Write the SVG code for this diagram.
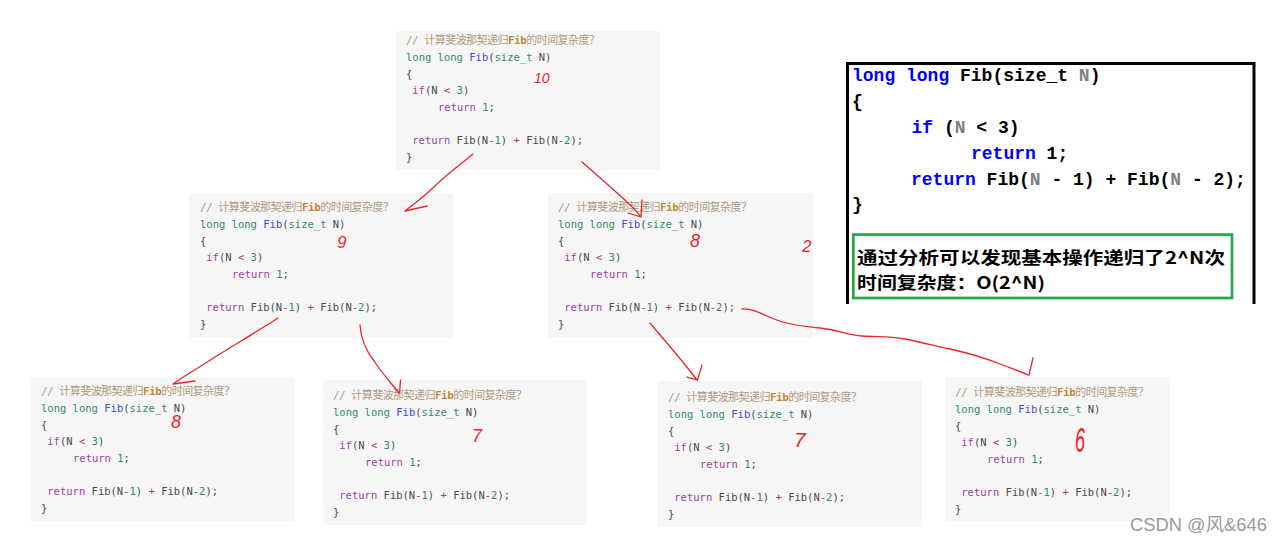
<svg xmlns="http://www.w3.org/2000/svg" width="1287" height="542" viewBox="0 0 1287 542">
<style>
.box{fill:#f6f6f6}
.code{font-family:"DejaVu Sans Mono","Liberation Mono",monospace;font-size:10.5px;fill:#4a4a4a}
.cm{font-family:"DejaVu Sans Mono","Noto Sans CJK SC",monospace;font-size:11px;fill:#ad9a80}
.cmf{fill:#c4893a;font-weight:bold}
.ty{fill:#32896c}
.fn{fill:#4545e6}
.kw{fill:#a13fa0}
.nu{fill:#2f8a63}
.op{fill:#a3396b}
.hand{font-family:"Liberation Sans",sans-serif;font-style:italic;fill:#e8262c}
.arrow{fill:none;stroke:#e8262c;stroke-width:1.3;stroke-linecap:round;stroke-linejoin:round}
.pc{font-family:"Liberation Mono","DejaVu Sans Mono",monospace;font-size:18px;font-weight:bold;fill:#000}
.pk{fill:#0000ff}
.pn{fill:#808080}
.cn{font-family:"Noto Sans CJK SC",sans-serif;font-size:17px;font-weight:bold;fill:#000}
</style>
<rect width="1287" height="542" fill="#ffffff"/>

<g id="node-top">
<rect class="box" x="396" y="31" width="264" height="139" rx="2"/>
<text class="cm" x="406" y="44" textLength="194" lengthAdjust="spacing">// 计算斐波那契递归<tspan class="cmf">Fib</tspan>的时间复杂度？</text>
<text class="code" x="406" y="60.8"><tspan class="ty">long long</tspan> <tspan class="fn">Fib</tspan>(<tspan class="ty">size_t</tspan> N)</text>
<text class="code" x="406" y="77.8">{</text>
<text class="code" x="412.3" y="94.3"><tspan class="kw">if</tspan>(N <tspan class="op">&lt;</tspan> <tspan class="nu">3</tspan>)</text>
<text class="code" x="438" y="110.8"><tspan class="kw">return</tspan> <tspan class="nu">1</tspan>;</text>
<text class="code" x="412.3" y="144.3"><tspan class="kw">return</tspan> Fib(N<tspan class="op">-</tspan><tspan class="nu">1</tspan>) <tspan class="op">+</tspan> Fib(N<tspan class="op">-</tspan><tspan class="nu">2</tspan>);</text>
<text class="code" x="406" y="160.8">}</text>
</g>

<g id="node-mid-left">
<rect class="box" x="189" y="194" width="264" height="144" rx="2"/>
<text class="cm" x="200" y="210.7" textLength="194" lengthAdjust="spacing">// 计算斐波那契递归<tspan class="cmf">Fib</tspan>的时间复杂度？</text>
<text class="code" x="200" y="227.5"><tspan class="ty">long long</tspan> <tspan class="fn">Fib</tspan>(<tspan class="ty">size_t</tspan> N)</text>
<text class="code" x="200" y="244.5">{</text>
<text class="code" x="206.3" y="261"><tspan class="kw">if</tspan>(N <tspan class="op">&lt;</tspan> <tspan class="nu">3</tspan>)</text>
<text class="code" x="232" y="277.5"><tspan class="kw">return</tspan> <tspan class="nu">1</tspan>;</text>
<text class="code" x="206.3" y="311"><tspan class="kw">return</tspan> Fib(N<tspan class="op">-</tspan><tspan class="nu">1</tspan>) <tspan class="op">+</tspan> Fib(N<tspan class="op">-</tspan><tspan class="nu">2</tspan>);</text>
<text class="code" x="200" y="327.5">}</text>
</g>

<g id="node-mid-right">
<rect class="box" x="548" y="193" width="265" height="145" rx="2"/>
<text class="cm" x="558" y="210.7" textLength="194" lengthAdjust="spacing">// 计算斐波那契递归<tspan class="cmf">Fib</tspan>的时间复杂度？</text>
<text class="code" x="558" y="227.5"><tspan class="ty">long long</tspan> <tspan class="fn">Fib</tspan>(<tspan class="ty">size_t</tspan> N)</text>
<text class="code" x="558" y="244.5">{</text>
<text class="code" x="564.3" y="261"><tspan class="kw">if</tspan>(N <tspan class="op">&lt;</tspan> <tspan class="nu">3</tspan>)</text>
<text class="code" x="590" y="277.5"><tspan class="kw">return</tspan> <tspan class="nu">1</tspan>;</text>
<text class="code" x="564.3" y="311"><tspan class="kw">return</tspan> Fib(N<tspan class="op">-</tspan><tspan class="nu">1</tspan>) <tspan class="op">+</tspan> Fib(N<tspan class="op">-</tspan><tspan class="nu">2</tspan>);</text>
<text class="code" x="558" y="327.5">}</text>
</g>

<g id="node-bottom-1">
<rect class="box" x="31" y="378" width="264" height="144" rx="2"/>
<text class="cm" x="41" y="395" textLength="194" lengthAdjust="spacing">// 计算斐波那契递归<tspan class="cmf">Fib</tspan>的时间复杂度？</text>
<text class="code" x="41" y="411.8"><tspan class="ty">long long</tspan> <tspan class="fn">Fib</tspan>(<tspan class="ty">size_t</tspan> N)</text>
<text class="code" x="41" y="428.8">{</text>
<text class="code" x="47.3" y="445.3"><tspan class="kw">if</tspan>(N <tspan class="op">&lt;</tspan> <tspan class="nu">3</tspan>)</text>
<text class="code" x="73" y="461.8"><tspan class="kw">return</tspan> <tspan class="nu">1</tspan>;</text>
<text class="code" x="47.3" y="495.3"><tspan class="kw">return</tspan> Fib(N<tspan class="op">-</tspan><tspan class="nu">1</tspan>) <tspan class="op">+</tspan> Fib(N<tspan class="op">-</tspan><tspan class="nu">2</tspan>);</text>
<text class="code" x="41" y="511.8">}</text>
</g>

<g id="node-bottom-2">
<rect class="box" x="323" y="380" width="264" height="145" rx="2"/>
<text class="cm" x="333" y="399" textLength="194" lengthAdjust="spacing">// 计算斐波那契递归<tspan class="cmf">Fib</tspan>的时间复杂度？</text>
<text class="code" x="333" y="415.8"><tspan class="ty">long long</tspan> <tspan class="fn">Fib</tspan>(<tspan class="ty">size_t</tspan> N)</text>
<text class="code" x="333" y="432.8">{</text>
<text class="code" x="339.3" y="449.3"><tspan class="kw">if</tspan>(N <tspan class="op">&lt;</tspan> <tspan class="nu">3</tspan>)</text>
<text class="code" x="365" y="465.8"><tspan class="kw">return</tspan> <tspan class="nu">1</tspan>;</text>
<text class="code" x="339.3" y="499.3"><tspan class="kw">return</tspan> Fib(N<tspan class="op">-</tspan><tspan class="nu">1</tspan>) <tspan class="op">+</tspan> Fib(N<tspan class="op">-</tspan><tspan class="nu">2</tspan>);</text>
<text class="code" x="333" y="515.8">}</text>
</g>

<g id="node-bottom-3">
<rect class="box" x="657" y="381" width="265" height="146" rx="2"/>
<text class="cm" x="668" y="400.7" textLength="194" lengthAdjust="spacing">// 计算斐波那契递归<tspan class="cmf">Fib</tspan>的时间复杂度？</text>
<text class="code" x="668" y="417.5"><tspan class="ty">long long</tspan> <tspan class="fn">Fib</tspan>(<tspan class="ty">size_t</tspan> N)</text>
<text class="code" x="668" y="434.5">{</text>
<text class="code" x="674.3" y="451"><tspan class="kw">if</tspan>(N <tspan class="op">&lt;</tspan> <tspan class="nu">3</tspan>)</text>
<text class="code" x="700" y="467.5"><tspan class="kw">return</tspan> <tspan class="nu">1</tspan>;</text>
<text class="code" x="674.3" y="501"><tspan class="kw">return</tspan> Fib(N<tspan class="op">-</tspan><tspan class="nu">1</tspan>) <tspan class="op">+</tspan> Fib(N<tspan class="op">-</tspan><tspan class="nu">2</tspan>);</text>
<text class="code" x="668" y="517.5">}</text>
</g>

<g id="node-bottom-4">
<rect class="box" x="945" y="377" width="225" height="145" rx="2"/>
<text class="cm" x="955" y="395.7" textLength="194" lengthAdjust="spacing">// 计算斐波那契递归<tspan class="cmf">Fib</tspan>的时间复杂度？</text>
<text class="code" x="955" y="412.5"><tspan class="ty">long long</tspan> <tspan class="fn">Fib</tspan>(<tspan class="ty">size_t</tspan> N)</text>
<text class="code" x="955" y="429.5">{</text>
<text class="code" x="961.3" y="446"><tspan class="kw">if</tspan>(N <tspan class="op">&lt;</tspan> <tspan class="nu">3</tspan>)</text>
<text class="code" x="987" y="462.5"><tspan class="kw">return</tspan> <tspan class="nu">1</tspan>;</text>
<text class="code" x="961.3" y="496"><tspan class="kw">return</tspan> Fib(N<tspan class="op">-</tspan><tspan class="nu">1</tspan>) <tspan class="op">+</tspan> Fib(N<tspan class="op">-</tspan><tspan class="nu">2</tspan>);</text>
<text class="code" x="955" y="512.5">}</text>
</g>

<g id="node-summary">
<path d="M847.5,304 V63.5 H1254 V304" fill="none" stroke="#000" stroke-width="3"/>
<text class="pc" x="852" y="80.5"><tspan class="pk">long long</tspan> Fib(size_t <tspan class="pn">N</tspan>)</text>
<text class="pc" x="852" y="106.5">{</text>
<text class="pc" x="911.5" y="132.5"><tspan class="pk">if</tspan> (<tspan class="pn">N</tspan> &lt; 3)</text>
<text class="pc" x="971" y="158.5"><tspan class="pk">return</tspan> 1;</text>
<text class="pc" x="911" y="184.5"><tspan class="pk">return</tspan> Fib(<tspan class="pn">N</tspan> - 1) + Fib(<tspan class="pn">N</tspan> - 2);</text>
<text class="pc" x="852" y="209.5">}</text>
<rect x="853.3" y="234.6" width="378.7" height="63.4" fill="none" stroke="#22a845" stroke-width="2.7"/>
<text class="cn" x="857" y="264" textLength="368" lengthAdjust="spacingAndGlyphs">通过分析可以发现基本操作递归了2^N次</text>
<text class="cn" x="857" y="289" textLength="188" lengthAdjust="spacingAndGlyphs">时间复杂度：O(2^N)</text>
</g>

<g id="connectors">
<path class="arrow" d="M473,154 C460,165 446,175 436,185 C426,195 414,204 405,211 M405,211 L427,206"/>
<path class="arrow" d="M582,162 C598,176 614,190 626,201 C632,207 637,211 640,216 M628,213 L641,217 L642,200"/>
<path class="arrow" d="M278,318 C258,331 236,344 215,357 C200,367 184,376 173,384 M173,384 L195,381"/>
<path class="arrow" d="M360,325 C361,340 367,352 374,361 C382,373 391,383 399,393 M400.5,380 L399.5,393"/>
<path class="arrow" d="M650,323 C665,341 682,360 697,380 M702,365 L697.5,380 L687,377"/>
<path class="arrow" d="M742,309 C752,308 762,314 774,319 C790,326 805,326 820,328 C838,330 848,335 862,336 C878,337 890,336 905,339 C920,342 932,345 950,349 C968,353 985,358 1000,364 C1010,368 1020,371 1028,375 M1033,358 L1029,375"/>
</g>

<g id="annotations">
<text class="hand" x="534" y="83" font-size="14">10</text>
<text class="hand" x="337" y="248" font-size="17">9</text>
<text class="hand" x="690" y="247" font-size="18">8</text>
<text class="hand" x="802" y="252" font-size="17">2</text>
<text class="hand" x="171" y="428" font-size="18">8</text>
<text class="hand" x="472" y="442" font-size="18">7</text>
<text class="hand" x="794" y="447" font-size="21">7</text>
<text class="hand" font-size="36" transform="translate(1075,452) scale(0.5,1)">6</text>
</g>

<text x="1130" y="531" font-family="Liberation Sans,Noto Sans CJK SC,sans-serif" font-size="18" fill="#9a9a9a" textLength="137" lengthAdjust="spacingAndGlyphs">CSDN @风&amp;646</text>
</svg>
